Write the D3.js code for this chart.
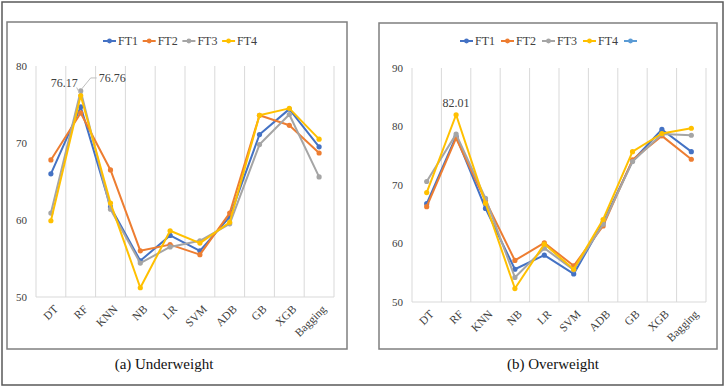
<!DOCTYPE html>
<html>
<head>
<meta charset="utf-8">
<script src="https://cdn.jsdelivr.net/npm/d3@7"></script>
<style>
  body { margin: 0; background: #fff; }
  svg text { font-family: "Liberation Serif", "DejaVu Serif", serif; }
</style>
</head>
<body>
<div id="chart"></div>
<script>
const categories = ["DT", "RF", "KNN", "NB", "LR", "SVM", "ADB", "GB", "XGB", "Bagging"];
const seriesNames = ["FT1", "FT2", "FT3", "FT4"];
const colors = ["#4472C4", "#ED7D31", "#A5A5A5", "#FFC000"];

// (a) Underweight
const underFT1 = [66.0, 74.7, 61.7, 54.7, 58.0, 56.0, 60.4, 71.1, 74.4, 69.5];
const underFT2 = [67.8, 73.9, 66.5, 56.0, 56.8, 55.5, 60.9, 73.6, 72.3, 68.7];
const underFT3 = [60.9, 76.76, 61.4, 54.4, 56.5, 57.3, 59.5, 69.8, 73.7, 65.6];
const underFT4 = [59.9, 76.17, 62.2, 51.2, 58.6, 57.0, 59.7, 73.6, 74.5, 70.5];
const underTicks = [50, 60, 70, 80];

// (b) Overweight
const overFT1 = [66.8, 78.3, 66.0, 55.6, 58.0, 54.8, 63.6, 74.1, 79.5, 75.7];
const overFT2 = [66.3, 78.0, 67.3, 57.1, 60.1, 56.2, 63.0, 74.3, 78.4, 74.4];
const overFT3 = [70.6, 78.7, 67.7, 54.2, 59.2, 55.5, 63.3, 74.0, 78.7, 78.5];
const overFT4 = [68.7, 82.01, 66.9, 52.3, 59.9, 55.6, 64.1, 75.7, 78.8, 79.7];
const overTicks = [50, 60, 70, 80, 90];

const width = 726, height = 388;

const svg = d3.select("#chart").append("svg")
    .attr("width", width)
    .attr("height", height);

// outer frame
svg.append("rect")
    .attr("x", 2).attr("y", 2)
    .attr("width", 721).attr("height", 383)
    .attr("fill", "none")
    .attr("stroke", "#595959")
    .attr("stroke-width", 1.5);

function drawPanel(cfg) {
    const g = svg.append("g");

    // chart box
    g.append("rect")
        .attr("x", cfg.box[0]).attr("y", cfg.box[1])
        .attr("width", cfg.box[2]).attr("height", cfg.box[3])
        .attr("fill", "#fff")
        .attr("stroke", "#7f7f7f")
        .attr("stroke-width", 1.5);

    const x = d3.scaleBand()
        .domain(categories)
        .range(cfg.xRange)
        .padding(0);

    const y = d3.scaleLinear()
        .domain(d3.extent(cfg.ticks))
        .range(cfg.yRange);

    // vertical grid at band edges
    const edges = categories.map(c => x(c)).concat([cfg.xRange[1]]);
    g.selectAll(".vgrid")
        .data(edges)
        .enter().append("line")
        .attr("x1", d => d).attr("x2", d => d)
        .attr("y1", y(cfg.ticks[cfg.ticks.length - 1]))
        .attr("y2", y(cfg.ticks[0]))
        .attr("stroke", "#d9d9d9")
        .attr("stroke-width", 1);

    // bottom axis line
    g.append("line")
        .attr("x1", cfg.xRange[0]).attr("x2", cfg.xRange[1])
        .attr("y1", y(cfg.ticks[0])).attr("y2", y(cfg.ticks[0]))
        .attr("stroke", "#d9d9d9")
        .attr("stroke-width", 1);

    // y tick labels
    g.selectAll(".ytick")
        .data(cfg.ticks)
        .enter().append("text")
        .attr("x", cfg.xRange[0] - 9)
        .attr("y", d => y(d))
        .attr("dy", "0.35em")
        .attr("text-anchor", "end")
        .attr("fill", "#404040")
        .style("font-size", "11px")
        .text(d => d);

    // x tick labels, rotated
    g.selectAll(".xtick")
        .data(categories)
        .enter().append("text")
        .attr("transform", d => "translate(" + (x(d) + x.bandwidth() / 2 + 5) + "," + (y(cfg.ticks[0]) + 10) + ") rotate(-45)")
        .attr("text-anchor", "end")
        .attr("dy", "0.35em")
        .attr("fill", "#404040")
        .style("font-size", "11.5px")
        .text(d => d);

    const line = d3.line()
        .x((d, i) => x(categories[i]) + x.bandwidth() / 2)
        .y(d => y(d));

    cfg.series.forEach((vals, k) => {
        g.append("path")
            .attr("d", line(vals))
            .attr("fill", "none")
            .attr("stroke", colors[k])
            .attr("stroke-width", 2)
            .attr("stroke-linejoin", "round");
        g.selectAll(".dot" + k)
            .data(vals)
            .enter().append("circle")
            .attr("r", 2.6)
            .attr("cx", (d, i) => x(categories[i]) + x.bandwidth() / 2)
            .attr("cy", d => y(d))
            .attr("fill", colors[k]);
    });

    // legend
    cfg.legend.forEach((it, i) => {
        const lx = cfg.legendX + i * cfg.legendStep;
        const ly = cfg.legendY;
        g.append("line")
            .attr("x1", lx).attr("x2", lx + 13)
            .attr("y1", ly).attr("y2", ly)
            .attr("stroke", it.color)
            .attr("stroke-width", 2);
        g.append("circle")
            .attr("cx", lx + 6.5).attr("cy", ly)
            .attr("r", 2.4)
            .attr("fill", it.color);
        if (it.name) {
            g.append("text")
                .attr("x", lx + 15).attr("y", ly)
                .attr("dy", "0.35em")
                .attr("fill", "#404040")
                .style("font-size", "12px")
                .text(it.name);
        }
    });

    // title
    svg.append("text")
        .attr("x", cfg.titleX).attr("y", 369)
        .attr("text-anchor", "middle")
        .attr("fill", "#111")
        .style("font-size", "15px")
        .text(cfg.title);

    return { x: x, y: y, g: g };
}

const pa = drawPanel({
    box: [7, 22, 340, 327],
    xRange: [36, 334],
    yRange: [297, 66],
    ticks: underTicks,
    series: [underFT1, underFT2, underFT3, underFT4],
    legend: seriesNames.map((n, i) => ({ name: n, color: colors[i] })),
    legendX: 103, legendY: 41, legendStep: 39.7,
    title: "(a) Underweight", titleX: 164
});

const pb = drawPanel({
    box: [379, 23, 338, 326],
    xRange: [412, 706],
    yRange: [302, 68],
    ticks: overTicks,
    series: [overFT1, overFT2, overFT3, overFT4],
    legend: seriesNames.map((n, i) => ({ name: n, color: colors[i] })).concat([{ name: "", color: "#5B9BD5" }]),
    legendX: 460, legendY: 41, legendStep: 41,
    title: "(b) Overweight", titleX: 553
});

// data labels, panel (a)
const rfA = pa.x("RF") + pa.x.bandwidth() / 2;
pa.g.append("polyline")
    .attr("points", [[rfA + 1, pa.y(underFT3[1]) - 2], [rfA + 10, pa.y(underFT3[1]) - 13], [rfA + 16, pa.y(underFT3[1]) - 13]].map(p => p.join(",")).join(" "))
    .attr("fill", "none")
    .attr("stroke", "#bfbfbf")
    .attr("stroke-width", 1);
pa.g.append("text")
    .attr("x", rfA + 18).attr("y", pa.y(underFT3[1]) - 13)
    .attr("dy", "0.35em")
    .attr("fill", "#404040")
    .style("font-size", "12px")
    .text(underFT3[1].toFixed(2));
pa.g.append("line")
    .attr("x1", rfA - 4).attr("y1", pa.y(underFT4[1]) - 8)
    .attr("x2", rfA - 1).attr("y2", pa.y(underFT4[1]) - 2)
    .attr("stroke", "#bfbfbf")
    .attr("stroke-width", 1);
pa.g.append("text")
    .attr("x", rfA - 3).attr("y", pa.y(underFT4[1]) - 13)
    .attr("dy", "0.35em")
    .attr("text-anchor", "end")
    .attr("fill", "#404040")
    .style("font-size", "12px")
    .text(underFT4[1].toFixed(2));

// data label, panel (b)
const rfB = pb.x("RF") + pb.x.bandwidth() / 2;
pb.g.append("text")
    .attr("x", rfB).attr("y", pb.y(overFT4[1]) - 12)
    .attr("dy", "0.35em")
    .attr("text-anchor", "middle")
    .attr("fill", "#404040")
    .style("font-size", "12px")
    .text(overFT4[1].toFixed(2));
</script>
</body>
</html>
